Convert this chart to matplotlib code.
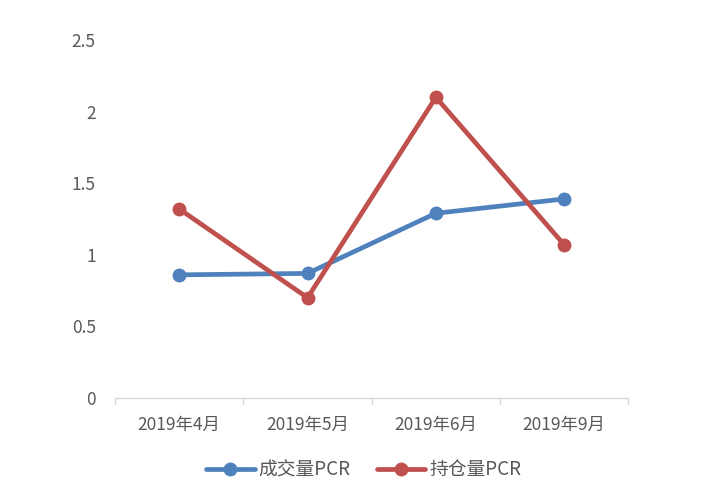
import matplotlib.pyplot as plt
import numpy as np

plt.rcParams['font.family'] = ['Noto Sans CJK SC', 'DejaVu Sans']

# 数据
months = ['2019年4月', '2019年5月', '2019年6月', '2019年9月']
vol_pcr = [0.86, 0.87, 1.29, 1.39]
oi_pcr = [1.32, 0.70, 2.10, 1.07]

blue = '#4F81BD'
red = '#C0504D'
txt = '#595959'

fig = plt.figure(figsize=(7.06, 5.0), dpi=100)
ax = fig.add_axes([0.163, 0.204, 0.727, 0.716])

x = np.arange(len(months))
ax.plot(x, vol_pcr, color=blue, lw=3.4, marker='o', ms=9, label='成交量PCR', solid_capstyle='round')
ax.plot(x, oi_pcr, color=red, lw=3.4, marker='o', ms=9, label='持仓量PCR', solid_capstyle='round')

ax.set_xlim(-0.5, len(months) - 0.5)
ax.set_ylim(0, 2.5)
ax.set_yticks([0, 0.5, 1, 1.5, 2, 2.5])
ax.set_yticklabels(['0', '0.5', '1', '1.5', '2', '2.5'])

# 分类轴：刻度线在类别边界，标签在类别中心
ax.set_xticks(np.arange(-0.5, len(months)), labels=[''] * (len(months) + 1))
ax.set_xticks(x, labels=months, minor=True)
ax.tick_params(axis='x', which='major', length=5, color='#D9D9D9', width=1)
ax.tick_params(axis='x', which='minor', length=0, pad=13, labelsize=12.5, labelcolor=txt)
ax.tick_params(axis='y', length=0, pad=14, labelsize=12.5, labelcolor=txt)

for s in ['top', 'right', 'left']:
    ax.spines[s].set_visible(False)
ax.spines['bottom'].set_color('#D9D9D9')
ax.spines['bottom'].set_linewidth(1)

leg = fig.legend(loc='center', bbox_to_anchor=(0.515, 0.06), ncol=2, frameon=False,
                 fontsize=13.5, handlelength=2.6, columnspacing=1.4, handletextpad=0.2)
for t in leg.get_texts():
    t.set_color(txt)

fig.savefig('out.png', dpi=100)
